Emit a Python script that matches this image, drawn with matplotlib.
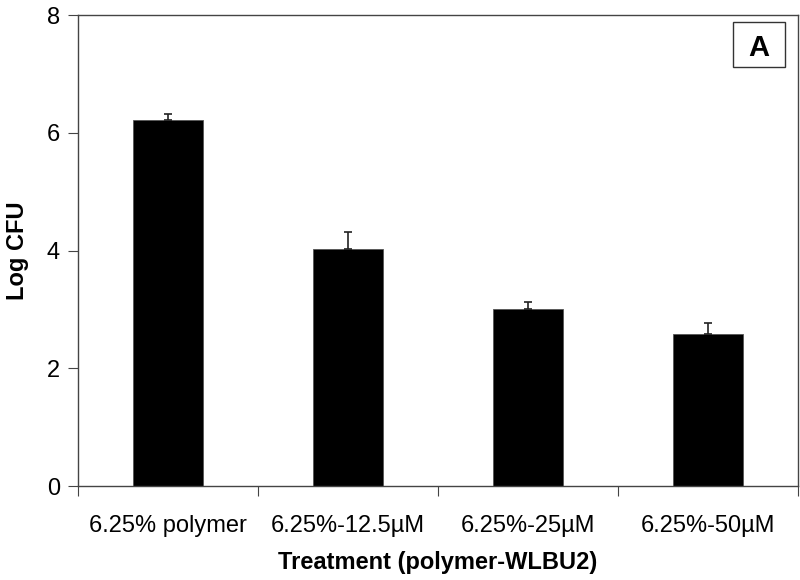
import matplotlib.pyplot as plt
import numpy as np
from matplotlib.patches import Rectangle

plt.rcParams['font.family'] = ['Liberation Sans', 'DejaVu Sans']

# Daten
treatments = ['6.25% polymer', '6.25%-12.5µM', '6.25%-25µM', '6.25%-50µM']
log_cfu = [6.21, 4.02, 3.01, 2.58]
err_up = [0.11, 0.29, 0.12, 0.19]

fig = plt.figure(figsize=(8, 5.8), dpi=100)
ax = fig.add_axes([0.0975, 0.162, 0.9, 0.812])

x = np.arange(len(treatments))
ax.bar(x, log_cfu, width=0.39, color='black', edgecolor='#555555', linewidth=0.6)
ax.errorbar(x, log_cfu, yerr=[np.zeros(len(err_up)), err_up], fmt='none',
            ecolor='#222222', elinewidth=1.2, capsize=3, capthick=1.2)

ax.set_xlim(-0.5, len(treatments) - 0.5)
ax.set_ylim(0, 8)
ax.set_yticks([0, 2, 4, 6, 8])
ax.set_xticks(np.arange(len(treatments) + 1) - 0.5)
ax.set_xticklabels([])
ax.set_xticks(x, minor=True)
ax.set_xticklabels(treatments, minor=True)
ax.tick_params(axis='x', which='minor', length=0, pad=21, labelsize=17)
ax.tick_params(axis='x', which='major', length=7, direction='out', color='#444444')
ax.tick_params(axis='y', length=7, direction='out', labelsize=17, color='#444444', pad=6)

for s in ax.spines.values():
    s.set_color('#444444')
    s.set_linewidth(1.0)

ax.set_ylabel('Log CFU', fontsize=17, fontweight='bold', labelpad=13)
ax.set_xlabel('Treatment (polymer-WLBU2)', fontsize=17, fontweight='bold', labelpad=10)

# Kasten "A"
ax.add_patch(Rectangle((0.910, 0.890), 0.072, 0.095, transform=ax.transAxes,
                       facecolor='white', edgecolor='#333333', linewidth=1.0, zorder=5))
ax.text(0.946, 0.9375, 'A', transform=ax.transAxes, ha='center', va='center_baseline',
        fontsize=21, fontweight='bold', zorder=6)

plt.savefig('out.png', dpi=100)
